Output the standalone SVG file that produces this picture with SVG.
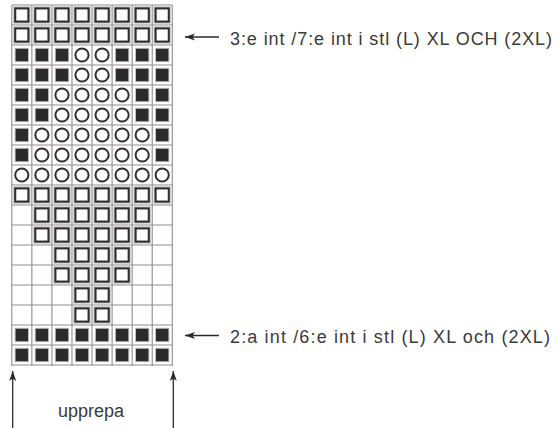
<svg xmlns="http://www.w3.org/2000/svg" xmlns:xlink="http://www.w3.org/1999/xlink" width="558" height="428" viewBox="0 0 558 428">
<style>
.grid line{stroke:#958a8a;stroke-width:1.1}
.lbl{font-family:"Liberation Sans","DejaVu Sans",sans-serif;font-size:18px;fill:#3a3a3a}
.arr{stroke:#2a2a2a;stroke-width:1.3;fill:none}
</style>
<defs>
<g id="S"><rect x="-7.9" y="-7.9" width="15.8" height="15.8" fill="none" stroke="#c9c9c9" stroke-width="1.6"/><rect x="-6.6" y="-6.6" width="13.2" height="13.2" fill="#fff" stroke="#2e2e2e" stroke-width="2.1"/></g>
<g id="F"><rect x="-7.2" y="-7.2" width="14.4" height="14.4" fill="#c2c2c2"/><rect x="-6.2" y="-6.2" width="12.4" height="12.4" fill="#2b2b2b"/></g>
<g id="O"><circle r="6.6" fill="#fff" stroke="#2e2e2e" stroke-width="2"/></g>
<marker id="ah" viewBox="0 0 10 8" refX="0" refY="4" markerWidth="10" markerHeight="8" markerUnits="userSpaceOnUse" orient="auto"><path d="M0,4 L10,0.5 L7.5,4 L10,7.5 Z" fill="#2a2a2a"/></marker>
</defs>
<rect width="558" height="428" fill="#fff"/>
<g id="grid" class="grid">
<line x1="11.8" y1="5" x2="11.8" y2="366"/><line x1="31.86" y1="5" x2="31.86" y2="366"/><line x1="51.92" y1="5" x2="51.92" y2="366"/><line x1="71.98" y1="5" x2="71.98" y2="366"/><line x1="92.04" y1="5" x2="92.04" y2="366"/><line x1="112.1" y1="5" x2="112.1" y2="366"/><line x1="132.16" y1="5" x2="132.16" y2="366"/><line x1="152.22" y1="5" x2="152.22" y2="366"/><line x1="172.28" y1="5" x2="172.28" y2="366"/>
<line x1="11.8" y1="5" x2="172.28" y2="5"/><line x1="11.8" y1="25" x2="172.28" y2="25"/><line x1="11.8" y1="45" x2="172.28" y2="45"/><line x1="11.8" y1="65" x2="172.28" y2="65"/><line x1="11.8" y1="85" x2="172.28" y2="85"/><line x1="11.8" y1="105" x2="172.28" y2="105"/><line x1="11.8" y1="125" x2="172.28" y2="125"/><line x1="11.8" y1="145" x2="172.28" y2="145"/><line x1="11.8" y1="165" x2="172.28" y2="165"/><line x1="11.8" y1="185" x2="172.28" y2="185"/><line x1="11.8" y1="205" x2="172.28" y2="205"/><line x1="11.8" y1="225" x2="172.28" y2="225"/><line x1="11.8" y1="245" x2="172.28" y2="245"/><line x1="11.8" y1="265" x2="172.28" y2="265"/><line x1="11.8" y1="285" x2="172.28" y2="285"/><line x1="11.8" y1="305" x2="172.28" y2="305"/><line x1="11.8" y1="325" x2="172.28" y2="325"/><line x1="11.8" y1="345" x2="172.28" y2="345"/><line x1="11.8" y1="365" x2="172.28" y2="365"/>
</g>
<g id="stitches">
<g id="r1" transform="translate(0,15)"><use href="#S" x="21.8"/><use href="#S" x="41.9"/><use href="#S" x="62"/><use href="#S" x="82"/><use href="#S" x="102.1"/><use href="#S" x="122.1"/><use href="#S" x="142.2"/><use href="#S" x="162.2"/></g>
<g id="r2" transform="translate(0,35)"><use href="#S" x="21.8"/><use href="#S" x="41.9"/><use href="#S" x="62"/><use href="#S" x="82"/><use href="#S" x="102.1"/><use href="#S" x="122.1"/><use href="#S" x="142.2"/><use href="#S" x="162.2"/></g>
<g id="r3" transform="translate(0,55)"><use href="#F" x="21.8"/><use href="#F" x="41.9"/><use href="#F" x="62"/><use href="#O" x="82"/><use href="#O" x="102.1"/><use href="#F" x="122.1"/><use href="#F" x="142.2"/><use href="#F" x="162.2"/></g>
<g id="r4" transform="translate(0,75)"><use href="#F" x="21.8"/><use href="#F" x="41.9"/><use href="#F" x="62"/><use href="#O" x="82"/><use href="#O" x="102.1"/><use href="#F" x="122.1"/><use href="#F" x="142.2"/><use href="#F" x="162.2"/></g>
<g id="r5" transform="translate(0,95)"><use href="#F" x="21.8"/><use href="#F" x="41.9"/><use href="#O" x="62"/><use href="#O" x="82"/><use href="#O" x="102.1"/><use href="#O" x="122.1"/><use href="#F" x="142.2"/><use href="#F" x="162.2"/></g>
<g id="r6" transform="translate(0,115)"><use href="#F" x="21.8"/><use href="#F" x="41.9"/><use href="#O" x="62"/><use href="#O" x="82"/><use href="#O" x="102.1"/><use href="#O" x="122.1"/><use href="#F" x="142.2"/><use href="#F" x="162.2"/></g>
<g id="r7" transform="translate(0,135)"><use href="#F" x="21.8"/><use href="#O" x="41.9"/><use href="#O" x="62"/><use href="#O" x="82"/><use href="#O" x="102.1"/><use href="#O" x="122.1"/><use href="#O" x="142.2"/><use href="#F" x="162.2"/></g>
<g id="r8" transform="translate(0,155)"><use href="#F" x="21.8"/><use href="#O" x="41.9"/><use href="#O" x="62"/><use href="#O" x="82"/><use href="#O" x="102.1"/><use href="#O" x="122.1"/><use href="#O" x="142.2"/><use href="#F" x="162.2"/></g>
<g id="r9" transform="translate(0,175)"><use href="#O" x="21.8"/><use href="#O" x="41.9"/><use href="#O" x="62"/><use href="#O" x="82"/><use href="#O" x="102.1"/><use href="#O" x="122.1"/><use href="#O" x="142.2"/><use href="#O" x="162.2"/></g>
<g id="r10" transform="translate(0,195)"><use href="#S" x="21.8"/><use href="#S" x="41.9"/><use href="#S" x="62"/><use href="#S" x="82"/><use href="#S" x="102.1"/><use href="#S" x="122.1"/><use href="#S" x="142.2"/><use href="#S" x="162.2"/></g>
<g id="r11" transform="translate(0,215)"><use href="#S" x="41.9"/><use href="#S" x="62"/><use href="#S" x="82"/><use href="#S" x="102.1"/><use href="#S" x="122.1"/><use href="#S" x="142.2"/></g>
<g id="r12" transform="translate(0,235)"><use href="#S" x="41.9"/><use href="#S" x="62"/><use href="#S" x="82"/><use href="#S" x="102.1"/><use href="#S" x="122.1"/><use href="#S" x="142.2"/></g>
<g id="r13" transform="translate(0,255)"><use href="#S" x="62"/><use href="#S" x="82"/><use href="#S" x="102.1"/><use href="#S" x="122.1"/></g>
<g id="r14" transform="translate(0,275)"><use href="#S" x="62"/><use href="#S" x="82"/><use href="#S" x="102.1"/><use href="#S" x="122.1"/></g>
<g id="r15" transform="translate(0,295)"><use href="#S" x="82"/><use href="#S" x="102.1"/></g>
<g id="r16" transform="translate(0,315)"><use href="#S" x="82"/><use href="#S" x="102.1"/></g>
<g id="r17" transform="translate(0,335)"><use href="#F" x="21.8"/><use href="#F" x="41.9"/><use href="#F" x="62"/><use href="#F" x="82"/><use href="#F" x="102.1"/><use href="#F" x="122.1"/><use href="#F" x="142.2"/><use href="#F" x="162.2"/></g>
<g id="r18" transform="translate(0,355)"><use href="#F" x="21.8"/><use href="#F" x="41.9"/><use href="#F" x="62"/><use href="#F" x="82"/><use href="#F" x="102.1"/><use href="#F" x="122.1"/><use href="#F" x="142.2"/><use href="#F" x="162.2"/></g>
</g>
<g id="connectors">
<line class="arr" x1="185" y1="37" x2="219" y2="37" marker-start="url(#ah)"/>
<line class="arr" x1="185" y1="335.5" x2="219" y2="335.5" marker-start="url(#ah)"/>
<line class="arr" x1="12.7" y1="371" x2="12.7" y2="428" marker-start="url(#ah)"/>
<line class="arr" x1="173.3" y1="371" x2="173.3" y2="428" marker-start="url(#ah)"/>
</g>
<g id="labels">
<text id="t1" class="lbl" x="230" y="44.5" textLength="322" lengthAdjust="spacing">3:e int /7:e int i stl (L) XL OCH (2XL)</text>
<text id="t2" class="lbl" x="230" y="342.5" textLength="320" lengthAdjust="spacing">2:a int /6:e int i stl (L) XL och (2XL)</text>
<text id="t3" class="lbl" x="58" y="416.5">upprepa</text>
</g>
</svg>
